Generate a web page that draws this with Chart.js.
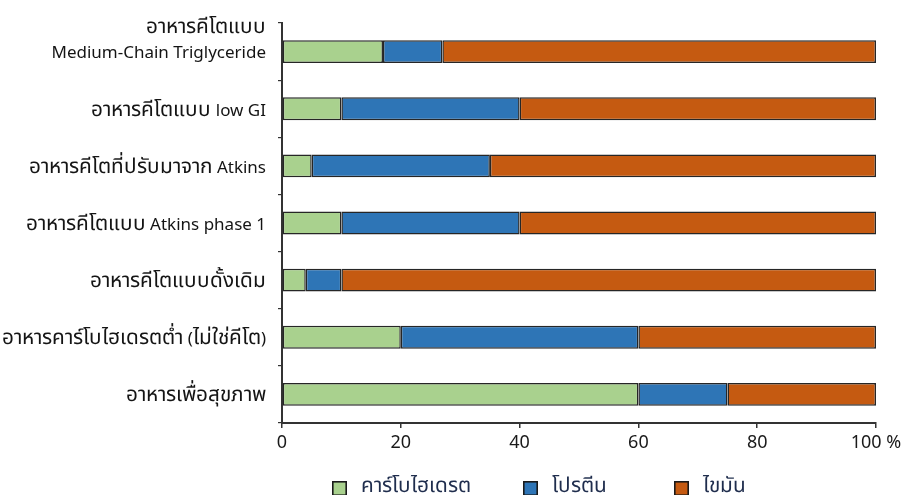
<!DOCTYPE html>
<html>
<head>
<meta charset="utf-8">
<script src="https://cdn.jsdelivr.net/npm/chart.js@4/dist/chart.umd.min.js"></script>
<style>
  /* Thai glyphs are set a little larger than the Latin ones */
  @font-face {
    font-family: 'ThaiScaled';
    src: local('Noto Sans Thai'), local('Noto Sans Thai Regular'), local('NotoSansThai-Regular'),
         local('Noto Sans Thai UI'), local('Noto Sans Thai UI Regular'), local('NotoSansThaiUI-Regular'),
         local('Noto Sans Thai Looped'), local('Noto Sans Thai Looped Regular'), local('NotoSansThaiLooped-Regular'),
         local('Loma'), local('Garuda'), local('Waree');
    size-adjust: 122%;
    unicode-range: U+0E00-0E7F;
  }
  html, body { margin: 0; padding: 0; background: #ffffff; }
  #wrap { width: 919px; height: 495px; position: relative; }
</style>
</head>
<body>
<div id="wrap"><canvas id="c"></canvas></div>
<script>
// Diet types (top to bottom)
const categories = [
  ['อาหารคีโตแบบ', 'Medium-Chain Triglyceride', ''],
  'อาหารคีโตแบบ low GI',
  'อาหารคีโตที่ปรับมาจาก Atkins',
  'อาหารคีโตแบบ Atkins phase 1',
  'อาหารคีโตแบบดั้งเดิม',
  'อาหารคาร์โบไฮเดรตต่ำ (ไม่ใช่คีโต)',
  'อาหารเพื่อสุขภาพ'
];

// Share of energy (%) from each macronutrient
const carbs   = [17, 10, 5, 10, 4, 20, 60];
const protein = [10, 30, 30, 30, 6, 40, 15];
const fat     = [73, 60, 65, 60, 90, 40, 25];

const seriesNames = ['คาร์โบไฮเดรต', 'โปรตีน', 'ไขมัน'];
const xTickLabels = ['0', '20', '40', '60', '80', '100 %'];

const FONT = '"ThaiScaled", "Noto Sans", "Noto Sans Thai", "DejaVu Sans", sans-serif';
const colors = ['#a9d18e', '#2e75b6', '#c55a11'];
const edge = '#262626';

// Legend row drawn under the axis, from the dataset labels and colours
const bottomLegend = {
  id: 'bottomLegend',
  afterDraw(chart) {
    const ctx = chart.ctx;
    const xs = [332, 523, 674];
    const y = 481, size = 15;
    ctx.save();
    ctx.font = '17px ' + FONT;
    ctx.textBaseline = 'middle';
    ctx.textAlign = 'left';
    chart.data.datasets.forEach((ds, i) => {
      ctx.fillStyle = ds.backgroundColor;
      ctx.fillRect(xs[i], y, size, size);
      ctx.lineWidth = 1.6;
      ctx.strokeStyle = '#1a1a1a';
      ctx.strokeRect(xs[i] + 0.8, y + 0.8, size - 1.6, size - 1.6);
      ctx.fillStyle = '#1f2d4d';
      ctx.fillText(ds.label, xs[i] + 29, y + size / 2 - 1);
    });
    ctx.restore();
  }
};

const makeSet = (i, data) => ({
  label: seriesNames[i],
  data: data,
  backgroundColor: colors[i],
  borderColor: edge,
  borderWidth: 1.5,
  borderSkipped: false,
  categoryPercentage: 0.8,
  barPercentage: 0.5
});

function draw() {
  new Chart(document.getElementById('c'), {
    type: 'bar',
    data: {
      labels: categories,
      datasets: [makeSet(0, carbs), makeSet(1, protein), makeSet(2, fat)]
    },
    plugins: [bottomLegend],
    options: {
      responsive: true,
      maintainAspectRatio: false,
      animation: false,
      indexAxis: 'y',
      layout: { padding: { top: 23, right: 43, left: 0, bottom: 42 } },
      plugins: {
        legend: { display: false },
        tooltip: { enabled: false }
      },
      scales: {
        x: {
          stacked: true,
          min: 0,
          max: 100,
          afterFit(scale) { scale.height = 30; },
          border: { color: '#333333', width: 2 },
          grid: { drawOnChartArea: false, drawTicks: true, tickLength: 5, color: '#333333', lineWidth: 1.5 },
          ticks: {
            stepSize: 20,
            padding: 4,
            color: '#1a1a1a',
            font: { family: FONT, size: 18 },
            callback: (v, i) => xTickLabels[i]
          }
        },
        y: {
          stacked: true,
          afterFit(scale) { scale.width = 282; },
          border: { color: '#333333', width: 2 },
          grid: { drawOnChartArea: false, drawTicks: true, tickLength: 4, color: '#333333', lineWidth: 1.2, offset: true },
          ticks: {
            padding: 12,
            labelOffset: 2,
            color: '#141414',
            autoSkip: false,
            font: (ctx) => ({ family: FONT, size: 17, lineHeight: ctx.index === 0 ? 1.5 : 1.2 })
          }
        }
      }
    }
  });
}

Promise.all([
  document.fonts.load('17px ThaiScaled', 'อาหาร'),
  document.fonts.load('17px "Noto Sans"', 'Medium')
]).then(draw, draw);
</script>
</body>
</html>
